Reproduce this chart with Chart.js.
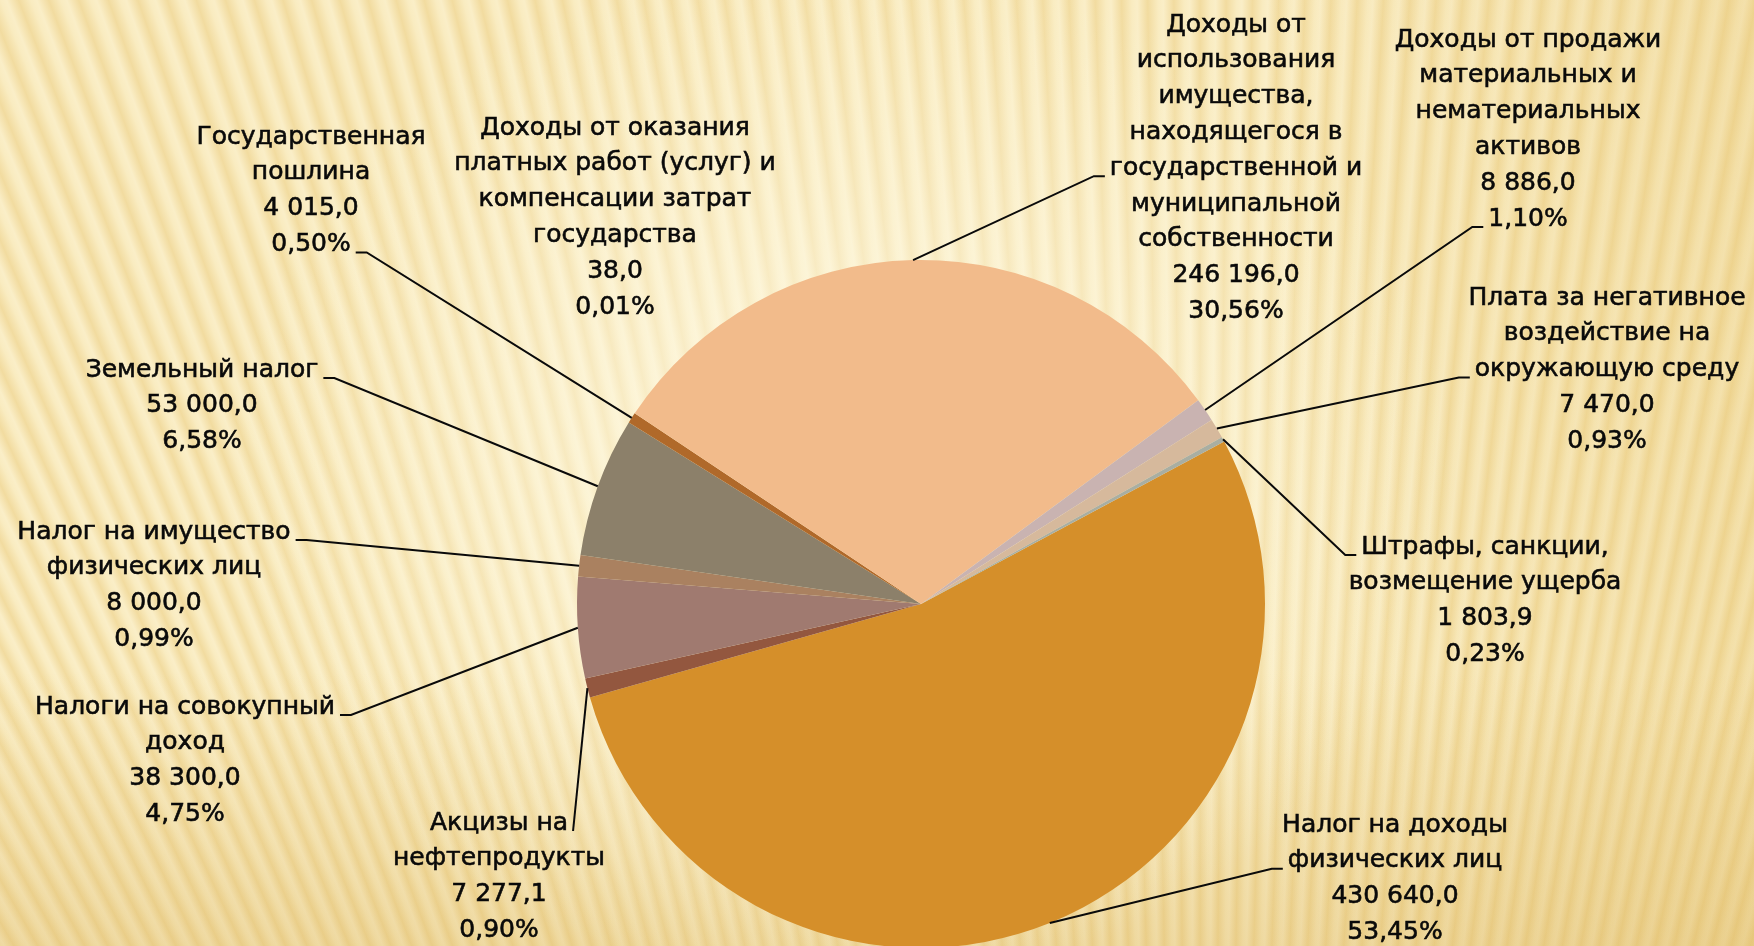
<!DOCTYPE html>
<html lang="ru">
<head>
<meta charset="utf-8">
<title>Структура доходов</title>
<script src="https://cdn.jsdelivr.net/npm/chart.js@4.4.1/dist/chart.umd.min.js"></script>
<style>
  html, body { margin: 0; padding: 0; overflow: hidden; }
  #wrap {
    position: relative;
    width: 1754px;
    height: 960px;
    background:
      radial-gradient(ellipse 620px 520px at 840px 470px, rgba(255,251,232,0.8), rgba(255,251,232,0) 100%),
      linear-gradient(to bottom, rgba(220,180,90,0) 70%, rgba(214,172,80,0.32) 100%),
      linear-gradient(to right, rgba(230,195,100,0) 72%, rgba(226,188,95,0.28) 100%),
      repeating-conic-gradient(from 0deg at 1200px 3000px,
        rgba(230,194,108,0.38) 0deg,
        rgba(255,248,222,0.05) 0.2deg,
        rgba(255,250,230,0.22) 0.3deg,
        rgba(230,194,108,0.38) 0.5deg),
      #f9ebbf;
  }
  canvas { display: block; }
</style>
</head>
<body>
<div id="wrap"><canvas id="pieChart"></canvas></div>
<script>
// категории (подписи разбиты по строкам, как на слайде)
const categories = [
    ["Налог на доходы", "физических лиц"],
    ["Акцизы на", "нефтепродукты"],
    ["Налоги на совокупный", "доход"],
    ["Налог на имущество", "физических лиц"],
    ["Земельный налог"],
    ["Государственная", "пошлина"],
    ["Доходы от оказания", "платных работ (услуг) и", "компенсации затрат", "государства"],
    ["Доходы от", "использования", "имущества,", "находящегося в", "государственной и", "муниципальной", "собственности"],
    ["Доходы от продажи", "материальных и", "нематериальных", "активов"],
    ["Плата за негативное", "воздействие на", "окружающую среду"],
    ["Штрафы, санкции,", "возмещение ущерба"]
];
const values = [430640.0, 7277.1, 38300.0, 8000.0, 53000.0, 4015.0, 38.0, 246196.0, 8886.0, 7470.0, 1803.9];
const shares = [53.45, 0.90, 4.75, 0.99, 6.58, 0.50, 0.01, 30.56, 1.10, 0.93, 0.23];
const sliceColors = ["#d58f2a", "#93573f", "#a07a70", "#aa8160", "#8c806a", "#b0692a",
                     "#e2a566", "#f2bb8b", "#c9b3b1", "#d6b99c", "#a9aea2"];

function fmtValue(v) {
    let parts = v.toFixed(1).split(".");
    let intPart = parts[0].replace(/\B(?=(\d{3})+(?!\d))/g, " ");
    return intPart + "," + parts[1];
}
function fmtShare(p) {
    return p.toFixed(2).replace(".", ",") + "%";
}

// где стоят подписи: центр текста, y первой строки, к какой строке цепляется выноска
const labelPlaces = [
    { x: 1395, y: 825, line: 1, side: "left" },
    { x: 499,  y: 823, line: 0, side: "right", tick: 0 },
    { x: 185,  y: 707, line: 0, side: "right" },
    { x: 154,  y: 532, line: 0, side: "right" },
    { x: 202,  y: 370, line: 0, side: "right" },
    { x: 311,  y: 137, line: 3, side: "right" },
    { x: 615,  y: 128, line: 0, side: null },
    { x: 1236, y: 25,  line: 4, side: "left" },
    { x: 1528, y: 40,  line: 5, side: "left" },
    { x: 1607, y: 298, line: 2, side: "left" },
    { x: 1485, y: 547, line: 0, side: "left" }
];

const LINE_H = 35.8;
const FONT = "25px 'DejaVu Sans', sans-serif";

const outsideLabels = {
    id: "outsideLabels",
    afterDatasetsDraw(chart) {
        const ctx = chart.ctx;
        const arcs = chart.getDatasetMeta(0).data;
        ctx.save();
        ctx.font = FONT;
        ctx.fillStyle = "#0a0a0a";
        ctx.strokeStyle = "#0a0a0a";
        ctx.textAlign = "center";
        ctx.textBaseline = "middle";

        arcs.forEach((arc, i) => {
            const place = labelPlaces[i];
            const lines = categories[i].concat([fmtValue(values[i]), fmtShare(shares[i])]);
            ctx.lineWidth = 0.6;
            lines.forEach((t, k) => {
                ctx.fillText(t, place.x, place.y + k * LINE_H);
                ctx.strokeText(t, place.x, place.y + k * LINE_H);
            });

            if (!place.side) return;
            const mid = (arc.startAngle + arc.endAngle) / 2;
            const px = arc.x + Math.cos(mid) * arc.outerRadius;
            const py = arc.y + Math.sin(mid) * arc.outerRadius;

            const w = ctx.measureText(lines[place.line]).width;
            const ty = place.y + place.line * LINE_H + 8;
            const tick = place.tick === undefined ? 11 : place.tick;
            let x0, x1;
            if (place.side === "right") {
                x0 = place.x + w / 2 + 5;
                x1 = x0 + tick;
            } else {
                x0 = place.x - w / 2 - 5;
                x1 = x0 - tick;
            }
            ctx.lineWidth = 2;
            ctx.beginPath();
            ctx.moveTo(x0, ty);
            ctx.lineTo(x1, ty);
            ctx.lineTo(px, py);
            ctx.stroke();
        });
        ctx.restore();
    }
};

const canvas = document.getElementById("pieChart");
canvas.width = 1754;
canvas.height = 960;

new Chart(canvas.getContext("2d"), {
    type: "pie",
    data: {
        labels: categories,
        datasets: [{
            data: values,
            backgroundColor: sliceColors,
            borderWidth: 0,
            hoverBorderWidth: 0,
            hoverOffset: 0,
            offset: 0
        }]
    },
    options: {
        responsive: false,
        animation: false,
        events: [],
        rotation: 61.8,
        layout: { padding: { left: 577, right: 489, top: 260, bottom: 12 } },
        plugins: {
            legend: { display: false },
            tooltip: { enabled: false }
        }
    },
    plugins: [outsideLabels]
});
</script>
</body>
</html>
